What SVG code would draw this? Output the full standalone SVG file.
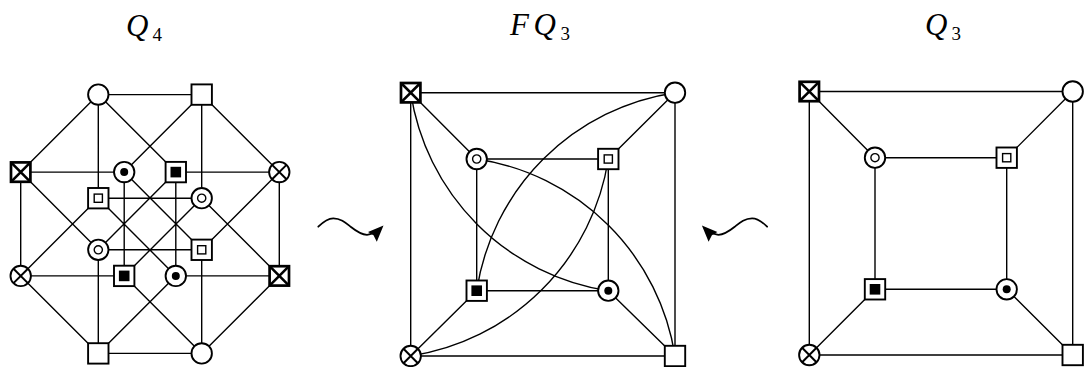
<svg xmlns="http://www.w3.org/2000/svg" xmlns:xlink="http://www.w3.org/1999/xlink" width="1084" height="367" viewBox="0 0 1084 367">
<style>
.e{fill:none;stroke:#000;stroke-width:1.4}
.w{fill:none;stroke:#000;stroke-width:1.8;stroke-linecap:round}
.o{fill:#fff;stroke:#000;stroke-width:1.9}
.ox{fill:#fff;stroke:#000;stroke-width:2.7}
.xl{stroke:#000;stroke-width:2.6;fill:none}
.cx{stroke:#000;stroke-width:2;fill:none}
.in{fill:none;stroke:#000;stroke-width:1.4}
.f{fill:#000;stroke:none}
.t{font-family:"Liberation Serif","DejaVu Serif",serif;font-style:italic;font-size:31px;fill:#000}
.s{font-family:"Liberation Serif","DejaVu Serif",serif;font-style:normal;font-size:19px;fill:#000}
</style>
<defs>
<g id="circ"><circle class="o" r="10.2"/></g>
<g id="sq"><rect class="o" x="-10.2" y="-10.2" width="20.4" height="20.4"/></g>
<g id="sqx"><rect class="ox" x="-9.7" y="-9.7" width="19.4" height="19.4"/><path class="xl" d="M-9.7,-9.7L9.7,9.7M-9.7,9.7L9.7,-9.7"/></g>
<g id="cix"><circle class="o" r="10.2"/><path class="cx" d="M-7.2,-7.2L7.2,7.2M-7.2,7.2L7.2,-7.2"/></g>
<g id="cdot"><circle class="o" r="10.2"/><circle class="f" r="4"/></g>
<g id="cring"><circle class="o" r="10.2"/><circle class="in" r="4.1"/></g>
<g id="sfill"><rect class="o" x="-10.2" y="-10.2" width="20.4" height="20.4"/><rect class="f" x="-5.3" y="-5.3" width="10.6" height="10.6"/></g>
<g id="sring"><rect class="o" x="-10.2" y="-10.2" width="20.4" height="20.4"/><rect class="in" x="-4.1" y="-4.1" width="8.2" height="8.2"/></g>
</defs>

<g id="titles">
<text class="t" x="126" y="36">Q</text><text class="s" x="152.5" y="41">4</text>
<text class="t" x="510" y="35">F</text><text class="t" x="533.5" y="35">Q</text><text class="s" x="560.5" y="40">3</text>
<text class="t" x="925" y="35">Q</text><text class="s" x="951.5" y="40">3</text>
</g>

<g id="connectors">
<!-- Q4 -->
<path class="e" d="M98.3,94.6H201.7 M98.3,94.6L20.7,172.1 M98.3,94.6V198.2 M98.3,94.6L175.8,172.1
M201.7,94.6L124.2,172.1 M201.7,94.6V198.2 M201.7,94.6L279.3,172.1
M20.7,172.1H124.2 M20.7,172.1V275.9 M20.7,172.1L98.3,249.8
M124.2,172.1V275.9 M124.2,172.1L201.7,249.8
M175.8,172.1V275.9 M175.8,172.1L98.3,249.8 M175.8,172.1H279.3
M279.3,172.1L201.7,249.8 M279.3,172.1V275.9
M98.3,198.2H201.7 M98.3,198.2L20.7,275.9 M98.3,198.2L175.8,275.9
M201.7,198.2L124.2,275.9 M201.7,198.2L279.3,275.9
M98.3,249.8H201.7 M98.3,249.8V353.4 M201.7,249.8V353.4
M20.7,275.9H124.2 M20.7,275.9L98.3,353.4 M124.2,275.9L201.7,353.4
M175.8,275.9H279.3 M175.8,275.9L98.3,353.4 M279.3,275.9L201.7,353.4
M98.3,353.4H201.7"/>
<!-- FQ3 -->
<path class="e" d="M410.7,92.7H675V356H410.7Z M476.7,159H608.3V290.7H476.7Z
M410.7,92.7L476.7,159 M675,92.7L608.3,159 M410.7,356L476.7,290.7 M675,356L608.3,290.7"/>
<path class="e" d="M410.7,92.7A236,236 0 0 0 608.3,290.7"/>
<path class="e" d="M476.7,159A236,236 0 0 1 675,356"/>
<path class="e" d="M675,92.7A236,236 0 0 0 476.7,290.7"/>
<path class="e" d="M608.3,159A236,236 0 0 1 410.7,356"/>
<!-- Q3 -->
<path class="e" d="M809.3,91.5H1072.7V355H809.3Z M875,157.7H1006.7V289.3H875Z
M809.3,91.5L875,157.7 M1072.7,91.5L1006.7,157.7 M809.3,355L875,289.3 M1072.7,355L1006.7,289.3"/>
<!-- squiggle arrows -->
<path class="w" d="M318.3,226.7C324,221 329,218.3 333.3,218.3C341,218.3 346,223 351,227C356,231 361,234.6 367,234.8C369,234.8 371,234 372.5,233.5"/>
<path class="f" d="M383.5,225.5L368,232L373.5,235.3L376.8,241.8Z"/>
<path class="w" d="M767.1,226.7C761.4,221 756.4,218.3 752.1,218.3C744.4,218.3 739.4,223 734.4,227C729.4,231 724.4,234.6 718.4,234.8C716.4,234.8 714.4,234 712.9,233.5"/>
<path class="f" d="M701.9,225.5L717.4,232L711.9,235.3L708.6,241.8Z"/>
</g>

<g id="q4-nodes">
<g id="q4-a"><use xlink:href="#circ" x="98.3" y="94.6"/></g>
<g id="q4-b"><use xlink:href="#sq" x="201.7" y="94.6"/></g>
<g id="q4-c"><use xlink:href="#sqx" x="20.7" y="172.1"/></g>
<g id="q4-d"><use xlink:href="#cdot" x="124.2" y="172.1"/></g>
<g id="q4-e"><use xlink:href="#sfill" x="175.8" y="172.1"/></g>
<g id="q4-f"><use xlink:href="#cix" x="279.3" y="172.1"/></g>
<g id="q4-g"><use xlink:href="#sring" x="98.3" y="198.2"/></g>
<g id="q4-h"><use xlink:href="#cring" x="201.7" y="198.2"/></g>
<g id="q4-i"><use xlink:href="#cring" x="98.3" y="249.8"/></g>
<g id="q4-j"><use xlink:href="#sring" x="201.7" y="249.8"/></g>
<g id="q4-k"><use xlink:href="#cix" x="20.7" y="275.9"/></g>
<g id="q4-l"><use xlink:href="#sfill" x="124.2" y="275.9"/></g>
<g id="q4-m"><use xlink:href="#cdot" x="175.8" y="275.9"/></g>
<g id="q4-n"><use xlink:href="#sqx" x="279.3" y="275.9"/></g>
<g id="q4-o"><use xlink:href="#sq" x="98.3" y="353.4"/></g>
<g id="q4-p"><use xlink:href="#circ" x="201.7" y="353.4"/></g>
</g>

<g id="fq3-nodes">
<g id="fq3-a"><use xlink:href="#sqx" x="410.7" y="92.7"/></g>
<g id="fq3-b"><use xlink:href="#circ" x="675" y="92.7"/></g>
<g id="fq3-c"><use xlink:href="#cring" x="476.7" y="159"/></g>
<g id="fq3-d"><use xlink:href="#sring" x="608.3" y="159"/></g>
<g id="fq3-e"><use xlink:href="#sfill" x="476.7" y="290.7"/></g>
<g id="fq3-f"><use xlink:href="#cdot" x="608.3" y="290.7"/></g>
<g id="fq3-g"><use xlink:href="#cix" x="410.7" y="356"/></g>
<g id="fq3-h"><use xlink:href="#sq" x="675" y="356"/></g>
</g>

<g id="q3-nodes">
<g id="q3-a"><use xlink:href="#sqx" x="809.3" y="91.5"/></g>
<g id="q3-b"><use xlink:href="#circ" x="1072.7" y="91.5"/></g>
<g id="q3-c"><use xlink:href="#cring" x="875" y="157.7"/></g>
<g id="q3-d"><use xlink:href="#sring" x="1006.7" y="157.7"/></g>
<g id="q3-e"><use xlink:href="#sfill" x="875" y="289.3"/></g>
<g id="q3-f"><use xlink:href="#cdot" x="1006.7" y="289.3"/></g>
<g id="q3-g"><use xlink:href="#cix" x="809.3" y="355"/></g>
<g id="q3-h"><use xlink:href="#sq" x="1072.7" y="355"/></g>
</g>
</svg>
